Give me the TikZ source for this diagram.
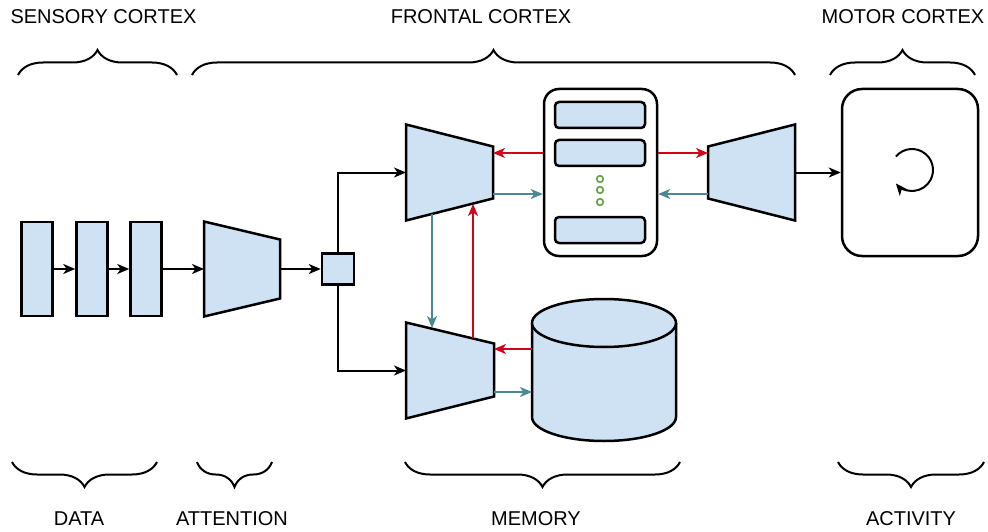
\documentclass[tikz,border=0pt]{standalone}
\usepackage{fontspec}
\setmainfont{Liberation Sans}
\usetikzlibrary{arrows.meta,calc,decorations.pathreplacing,positioning}

\definecolor{cellblue}{HTML}{CFE2F3}
\definecolor{readred}{HTML}{D0021B}
\definecolor{writeteal}{HTML}{4A8896}
\definecolor{dotgreen}{HTML}{6AA84F}

\begin{document}
\begin{tikzpicture}[x=1pt,y=-1pt,
    cell/.style = {draw, line width=2.5pt, fill=cellblue},
    hold/.style = {inner sep=0pt, outer sep=0pt},
    arr/.style = {-{Stealth[length=12pt,width=10pt,inset=3.5pt]}, line width=2pt},
    rd/.style = {arr, readred},
    wr/.style = {arr, writeteal},
    brc/.style = {decorate, decoration={brace, amplitude=25pt}, line width=2pt},
    lbl/.style = {font=\fontsize{20}{24}\selectfont, inner sep=0pt},
    dot/.style = {draw=dotgreen, line width=1.8pt, circle, inner sep=0pt, minimum size=6.5pt}]
    \useasboundingbox (0,0) rectangle (988,532);

    % data
    \node[cell, minimum width=31, minimum height=94] (d1) at (37,269) {};
    \node[cell, minimum width=31, minimum height=94] (d2) at (92,269) {};
    \node[cell, minimum width=31, minimum height=94] (d3) at (146,269) {};
    \draw[arr] (d1) -- (d2);
    \draw[arr] (d2) -- (d3);

    % attention
    \node[hold, minimum width=76, minimum height=95] (att) at (242,269) {};
    \draw[cell] (att.north west) -- ($(att.north east)+(0,18)$) -- ($(att.south east)+(0,-18)$) -- (att.south west) -- cycle;
    \draw[arr] (d3) -- (att.west);
    \node[cell, minimum width=32, minimum height=31] (sq) at (338,269) {};
    \draw[arr] (att.east) -- (sq);

    % encoders
    \node[hold, minimum width=87, minimum height=96] (encA) at (449.5,172.5) {};
    \draw[cell] (encA.north west) -- ($(encA.north east)+(0,22)$) -- ($(encA.south east)+(0,-22)$) -- (encA.south west) -- cycle;
    \node[hold, minimum width=88, minimum height=96] (encB) at (450,370.5) {};
    \draw[cell] (encB.north west) -- ($(encB.north east)+(0,21)$) -- ($(encB.south east)+(0,-22)$) -- (encB.south west) -- cycle;
    \draw[arr] (sq.north) |- (encA.west);
    \draw[arr] (sq.south) |- (encB.west);

    % slot memory
    \node[draw, line width=2.5pt, fill=white, rounded corners=15pt, minimum width=113, minimum height=167] (mem) at (600.5,172.5) {};
    \node[cell, rounded corners=4pt, minimum width=90, minimum height=26] (s1) at (600,115) {};
    \node[cell, rounded corners=4pt, minimum width=90, minimum height=26] (s2) at (600,153) {};
    \node[cell, rounded corners=4pt, minimum width=90, minimum height=26] (s3) at (600,230) {};
    \node[dot] (g1) at (600,179) {};
    \node[dot] (g2) at (600,190) {};
    \node[dot] (g3) at (600,202) {};

    % decoder
    \node[hold, minimum width=87, minimum height=96] (dec) at (751.5,172.5) {};
    \draw[cell] ($(dec.north west)+(0,22)$) -- (dec.north east) -- (dec.south east) -- ($(dec.south west)+(0,-22)$) -- cycle;

    % activity
    \node[draw, line width=2.5pt, rounded corners=20pt, minimum width=136, minimum height=167] (act) at (910,172.5) {};
    \draw[arr] (dec.east) -- (act.west);
    \coordinate (spin) at (912,170);
    \draw[arr] ($(spin)+(-140:21)$) arc[start angle=-140, end angle=140, radius=21];

    % store
    \node[hold, minimum width=144, minimum height=142] (store) at (604,370) {};
    \draw[cell] (532,323) -- (532,417) arc[start angle=180, end angle=0, x radius=72, y radius=24] -- (676,323);
    \draw[cell] (604,323) ellipse[x radius=72, y radius=24];

    % read / write
    \draw[rd] (mem.west |- s2) -- (encA.east |- s2);
    \draw[rd] (mem.east |- s2) -- (dec.west |- s2);
    \draw[wr] (encA.east |- 0,194) -- (mem.west |- 0,194);
    \draw[wr] (dec.west |- 0,194) -- (mem.east |- 0,194);
    \draw[rd] (store.west |- 0,349) -- (encB.east |- 0,349);
    \draw[wr] (encB.east |- 0,392) -- (store.west |- 0,392);
    \coordinate (aOut) at (432,214);
    \coordinate (bIn) at (432,328);
    \coordinate (bOut) at (473,338);
    \coordinate (aIn) at (473,204);
    \draw[wr] (aOut) -- (bIn);
    \draw[rd] (bOut) -- (aIn);

    % braces
    \draw[brc] (18,75) -- (177,75);
    \draw[brc] (192,75) -- (795,75);
    \draw[brc] (830,75) -- (975,75);
    \draw[brc] (157,462) -- (12,462);
    \draw[brc] (272,462) -- (197,462);
    \draw[brc] (680,462) -- (405,462);
    \draw[brc] (984,462) -- (838,462);

    \node[lbl] (sens) at (103.5,17) {SENSORY CORTEX};
    \node[lbl] (front) at (481,17) {FRONTAL CORTEX};
    \node[lbl] (motor) at (903,17) {MOTOR CORTEX};
    \node[lbl] (data) at (79,519) {DATA};
    \node[lbl] (attn) at (232,519) {ATTENTION};
    \node[lbl] (memo) at (536,519) {MEMORY};
    \node[lbl] (acty) at (911,519) {ACTIVITY};
\end{tikzpicture}
\end{document}
